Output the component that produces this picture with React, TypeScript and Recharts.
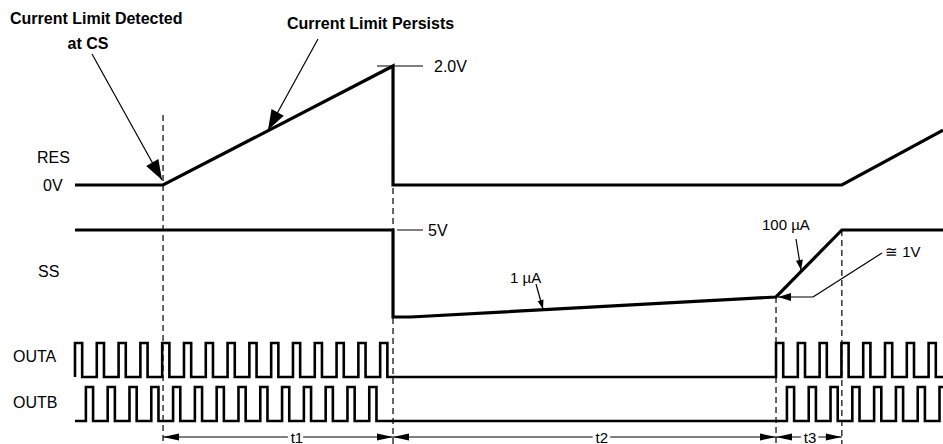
import * as React from 'react';
import { LineChart, Line, XAxis, YAxis, ReferenceLine, ReferenceDot } from 'recharts';

const W = 943, H = 444;
const FONT = '"Liberation Sans", Arial, Helvetica, sans-serif';

// time axis in switching periods (one OUTA period = 1)
const TIME_DOMAIN: [number, number] = [-3.44, 39.82];
const T_LIMIT = 4.04;    // current limit detected at CS
const T_FAULT = 14.59;   // RES reaches 2.0V, outputs off
const T_RESTART = 32.16; // SS back at ~1V, outputs restart
const T_SS_FULL = 35.18; // SS back at 5V
const T_END = 39.82;

// RES (V)
const RES_T = [0, T_LIMIT, T_FAULT, T_FAULT, T_SS_FULL, T_END];
const RES_V = [0, 0, 2.0, 0, 0, 0.92];

// SS (V)
const SS_T = [0, T_FAULT, T_FAULT, 15.4, T_RESTART, T_SS_FULL, T_END];
const SS_V = [5, 5, 0, 0, 1.15, 5, 5];

// rising edges of the output pulses
const OUTA_RISE = [0, 1, 2, 3, 4, 5, 6, 7, 8, 9, 10, 11, 12, 13, 14,
  32.16, 33.16, 34.16, 35.16, 36.16, 37.16, 38.16, 39.16];
const OUTB_RISE = [0.5, 1.5, 2.5, 3.5, 4.5, 5.5, 6.5, 7.5, 8.5, 9.5, 10.5, 11.5, 12.5, 13.5,
  32.66, 33.66, 34.66, 35.66, 36.66, 37.66, 38.66, 39.66];
const PULSE_W = 0.33;

const pts = (ts: number[], vs: number[]) => ts.map((t, i) => ({ t, v: vs[i] }));
const pulses = (rises: number[], w: number, end: number) => {
  const out = [{ t: 0, v: 0 }];
  rises.forEach(r => { out.push({ t: r, v: 0 }, { t: r, v: 1 }, { t: r + w, v: 1 }, { t: r + w, v: 0 }); });
  out.push({ t: Math.max(end, rises[rises.length - 1] + w), v: 0 });
  return out;
};

// place a value range on given pixel rows of the plot
const levelDomain = (lo: number, loPx: number, hi: number, hiPx: number): [number, number] => {
  const k = (loPx - hiPx) / (hi - lo);
  return [lo - (H - loPx) / k, hi + hiPx / k];
};
// layout column (px) -> time axis value, for annotations
const px2t = (x: number) => TIME_DOMAIN[0] + (x / W) * (TIME_DOMAIN[1] - TIME_DOMAIN[0]);

const resData = pts(RES_T, RES_V);
const ssData = pts(SS_T, SS_V);
const outaData = pulses(OUTA_RISE, PULSE_W, T_END);
const outbData = pulses(OUTB_RISE, PULSE_W, T_END);

type Lbl = { text: string; x: number; y: number; anchor?: 'start' | 'middle' | 'end'; bold?: boolean; size?: number };
const LABELS: Lbl[] = [
  { text: 'Current Limit Detected', x: 10, y: 18, bold: true, size: 16 },
  { text: 'at CS', x: 88, y: 43, anchor: 'middle', bold: true, size: 16 },
  { text: 'Current Limit Persists', x: 287, y: 23, bold: true, size: 16 },
  { text: 'RES', x: 37, y: 157, size: 16 },
  { text: '0V', x: 43, y: 185, size: 16 },
  { text: 'SS', x: 38, y: 271, size: 16 },
  { text: 'OUTA', x: 13, y: 356, size: 16 },
  { text: 'OUTB', x: 13, y: 402, size: 16 },
  { text: '2.0V', x: 434, y: 66, size: 16 },
  { text: '5V', x: 428, y: 230, size: 16 },
  { text: '1 µA', x: 510, y: 277 },
  { text: '100 µA', x: 762, y: 224 },
  { text: '≅ 1V', x: 885, y: 251 },
];
const SPANS = [
  { from: T_LIMIT, to: T_FAULT, text: 't1', at: 10.18 },
  { from: T_FAULT, to: T_RESTART, text: 't2', at: 24.17 },
  { from: T_RESTART, to: T_SS_FULL, text: 't3', at: 33.72 },
];
// callout arrows [x1, y1, x2(tip), y2(tip), head length, head width]
const ARROWS: number[][] = [
  [92, 54, 162, 180, 20, 14],
  [318, 39, 268, 130, 20, 14],
  [536, 284, 543, 309, 9, 6],
  [796, 239, 801, 270, 10, 7],
  [813, 297, 778, 297, 13, 8],
];

const head = (x1: number, y1: number, x2: number, y2: number, len: number, wd: number) => {
  const a = Math.atan2(y2 - y1, x2 - x1);
  const bx = x2 - len * Math.cos(a), by = y2 - len * Math.sin(a);
  const nx = -Math.sin(a) * wd / 2, ny = Math.cos(a) * wd / 2;
  return `${x2},${y2} ${bx + nx},${by + ny} ${bx - nx},${by - ny}`;
};
const arrowShape = (len: number, wd: number, both = false) => (p: any) => (
  <g>
    <line x1={p.x1} y1={p.y1} x2={p.x2} y2={p.y2} stroke="#000" strokeWidth={1.2} />
    <polygon points={head(p.x1, p.y1, p.x2, p.y2, len, wd)} fill="#000" />
    {both && <polygon points={head(p.x2, p.y2, p.x1, p.y1, len, wd)} fill="#000" />}
  </g>
);
const textShape = (l: Lbl, halo = false) => (p: any) => (
  <text x={p.cx} y={p.cy} textAnchor={l.anchor || 'start'} dominantBaseline="central"
    fontFamily={FONT} fontSize={l.size || 15} fontWeight={l.bold ? 700 : 400} fill="#000"
    stroke={halo ? '#fff' : 'none'} strokeWidth={halo ? 6 : 0} paintOrder="stroke">{l.text}</text>
);

export default function App() {
  const dash = { stroke: '#000', strokeWidth: 1.2, strokeDasharray: '6 4' };
  return (
    <div style={{ position: 'fixed', left: 0, top: 0, width: W, height: H, background: '#fff' }}>
      <LineChart width={W} height={H} margin={{ top: 0, right: 0, bottom: 0, left: 0 }}>
        <XAxis xAxisId="time" type="number" dataKey="t" domain={TIME_DOMAIN} allowDataOverflow hide />
        <YAxis yAxisId="res" type="number" domain={levelDomain(0, 185, 2, 66)} allowDataOverflow hide />
        <YAxis yAxisId="ss" type="number" domain={levelDomain(0, 317, 5, 230)} allowDataOverflow hide />
        <YAxis yAxisId="outa" type="number" domain={levelDomain(0, 377, 1, 343)} allowDataOverflow hide />
        <YAxis yAxisId="outb" type="number" domain={levelDomain(0, 421, 1, 387)} allowDataOverflow hide />
        <YAxis yAxisId="px" type="number" domain={[0, H]} reversed allowDataOverflow hide />

        {/* event markers */}
        <ReferenceLine xAxisId="time" yAxisId="px" segment={[{ x: T_LIMIT, y: 115 }, { x: T_LIMIT, y: H }]} ifOverflow="visible" {...dash} />
        <ReferenceLine xAxisId="time" yAxisId="px" segment={[{ x: T_FAULT, y: 188 }, { x: T_FAULT, y: H }]} ifOverflow="visible" {...dash} />
        <ReferenceLine xAxisId="time" yAxisId="px" segment={[{ x: T_RESTART, y: 297 }, { x: T_RESTART, y: H }]} ifOverflow="visible" {...dash} />
        <ReferenceLine xAxisId="time" yAxisId="px" segment={[{ x: T_SS_FULL, y: 230 }, { x: T_SS_FULL, y: H }]} ifOverflow="visible" {...dash} />

        {/* level ticks */}
        <ReferenceLine xAxisId="time" yAxisId="res" segment={[{ x: px2t(377), y: 2 }, { x: px2t(423), y: 2 }]} ifOverflow="visible" stroke="#000" strokeWidth={1} />
        <ReferenceLine xAxisId="time" yAxisId="ss" segment={[{ x: px2t(397), y: 5 }, { x: px2t(423), y: 5 }]} ifOverflow="visible" stroke="#000" strokeWidth={1} />

        <Line xAxisId="time" yAxisId="res" data={resData} dataKey="v" type="linear" stroke="#000" strokeWidth={3.2} dot={false} activeDot={false} isAnimationActive={false} />
        <Line xAxisId="time" yAxisId="ss" data={ssData} dataKey="v" type="linear" stroke="#000" strokeWidth={3.2} dot={false} activeDot={false} isAnimationActive={false} />
        <Line xAxisId="time" yAxisId="outa" data={outaData} dataKey="v" type="linear" stroke="#000" strokeWidth={2.6} dot={false} activeDot={false} isAnimationActive={false} />
        <Line xAxisId="time" yAxisId="outb" data={outbData} dataKey="v" type="linear" stroke="#000" strokeWidth={2.6} dot={false} activeDot={false} isAnimationActive={false} />

        {/* callouts */}
        <ReferenceLine xAxisId="time" yAxisId="px" segment={[{ x: px2t(882), y: 253 }, { x: px2t(813), y: 297 }]} ifOverflow="visible" stroke="#000" strokeWidth={1.2} />
        {ARROWS.map((a, i) => (
          <ReferenceLine key={'a' + i} xAxisId="time" yAxisId="px" segment={[{ x: px2t(a[0]), y: a[1] }, { x: px2t(a[2]), y: a[3] }]}
            ifOverflow="visible" shape={arrowShape(a[4], a[5])} />
        ))}
        {SPANS.map(s => (
          <ReferenceLine key={s.text} xAxisId="time" yAxisId="px" segment={[{ x: s.from, y: 437 }, { x: s.to, y: 437 }]}
            ifOverflow="visible" shape={arrowShape(16, 7, true)} />
        ))}
        {SPANS.map(s => (
          <ReferenceDot key={'l' + s.text} xAxisId="time" yAxisId="px" x={s.at} y={437} ifOverflow="visible"
            shape={textShape({ text: s.text, x: 0, y: 0, anchor: 'middle' }, true)} />
        ))}
        {LABELS.map(l => (
          <ReferenceDot key={l.text} xAxisId="time" yAxisId="px" x={px2t(l.x)} y={l.y} ifOverflow="visible" shape={textShape(l)} />
        ))}
      </LineChart>
    </div>
  );
}
